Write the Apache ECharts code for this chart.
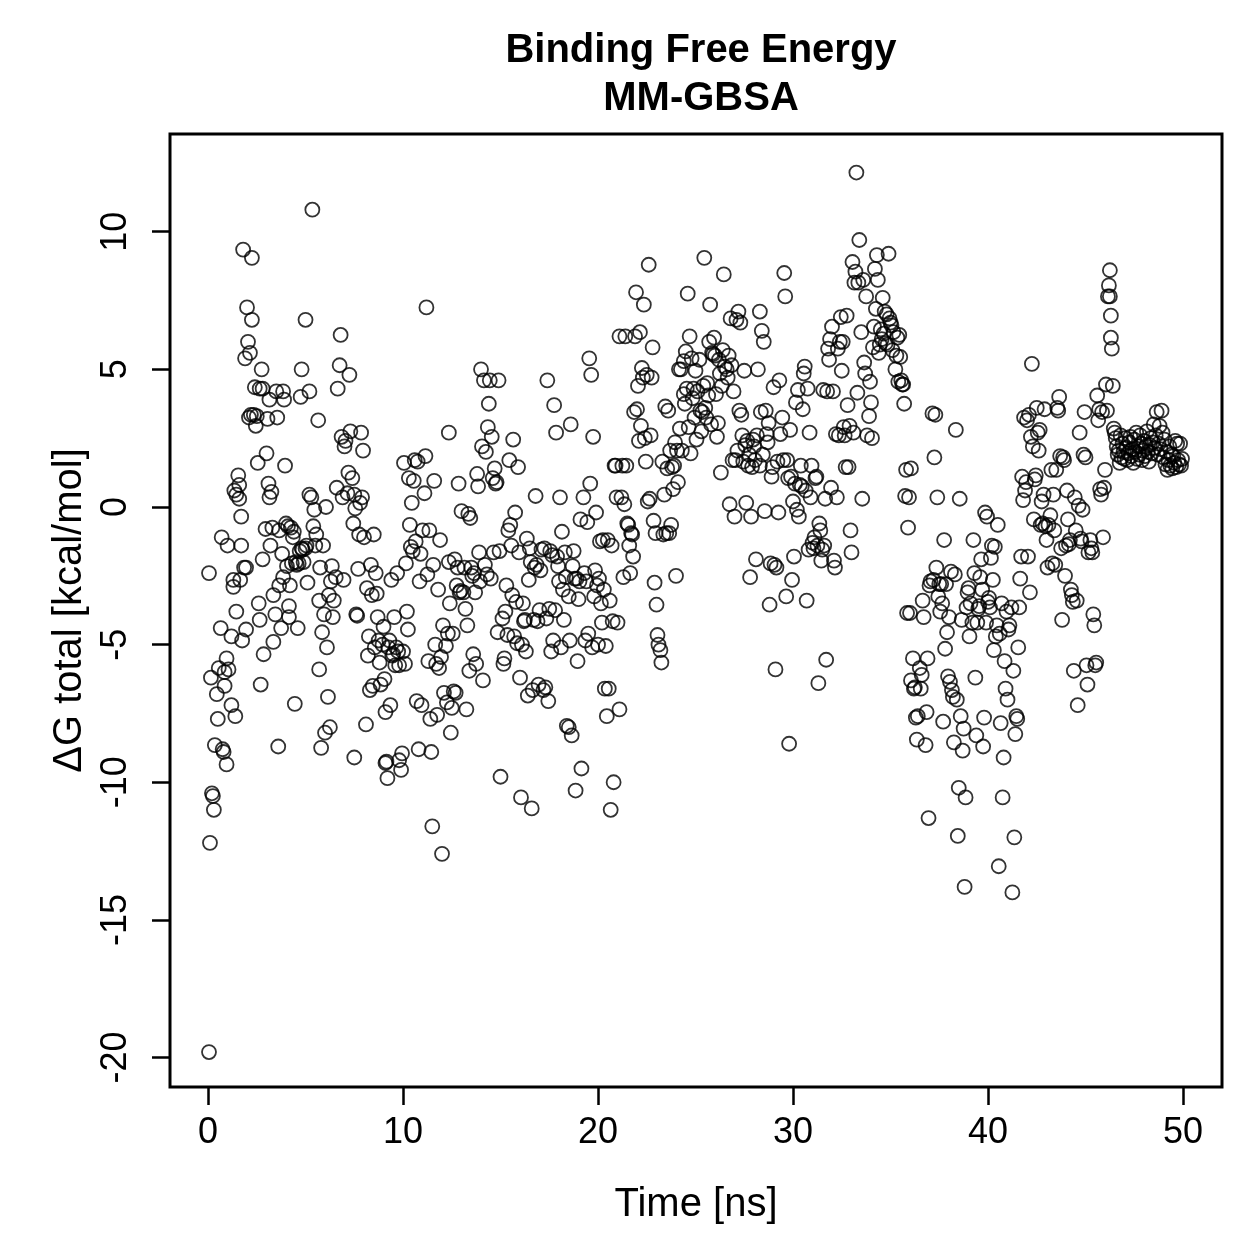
<!DOCTYPE html>
<html>
<head>
<meta charset="utf-8">
<script src="https://cdn.jsdelivr.net/npm/echarts@6/dist/echarts.min.js"></script>
<style>
  html, body { margin: 0; padding: 0; background: #fff; }
  #chart { width: 1259px; height: 1259px; }
</style>
</head>
<body>
<div id="chart"></div>
<script>
// [time (ns), dG total (kcal/mol)], one block per 10 ns
const pts0to10 = [[0.05,-19.8],[0.05,-2.4],[0.1,-12.2],[0.15,-6.2],[0.2,-10.4],[0.25,-10.5],[0.3,-11.0],[0.35,-8.65],[0.45,-6.8],[0.5,-7.7],[0.55,-5.85],[0.65,-4.4],[0.7,-1.1],[0.75,-8.8],[0.8,-8.9],[0.85,-6.0],[0.85,-6.5],[0.95,-9.35],[0.95,-5.5],[1.0,-1.4],[1.05,-5.9],[1.2,-7.2],[1.2,-4.7],[1.3,-2.65],[1.3,-2.9],[1.35,0.6],[1.4,-7.6],[1.45,-3.8],[1.45,0.45],[1.55,1.15],[1.6,0.3],[1.6,0.8],[1.65,-2.65],[1.7,-1.4],[1.7,-0.35],[1.75,-4.85],[1.8,9.35],[1.85,-2.2],[1.9,5.4],[1.95,-4.45],[1.95,-2.2],[2.0,7.25],[2.05,6.0],[2.1,3.25],[2.15,5.6],[2.2,3.35],[2.25,9.05],[2.25,6.8],[2.35,3.35],[2.4,4.35],[2.45,2.95],[2.5,3.3],[2.55,1.6],[2.6,-3.5],[2.65,4.3],[2.65,-4.1],[2.7,-6.45],[2.75,5.0],[2.8,-1.9],[2.8,4.3],[2.85,-5.35],[2.95,-0.8],[3.0,1.95],[3.05,3.2],[3.1,0.85],[3.15,0.35],[3.15,3.9],[3.2,-1.4],[3.25,0.55],[3.3,-0.75],[3.35,-3.2],[3.35,-4.9],[3.45,-3.9],[3.5,4.2],[3.55,3.25],[3.6,-8.7],[3.65,-2.85],[3.65,-0.85],[3.75,-4.4],[3.8,-1.7],[3.85,-2.55],[3.85,4.2],[3.9,3.9],[3.95,1.5],[4.0,-0.6],[4.05,-2.15],[4.1,-0.7],[4.15,-4.0],[4.15,-3.6],[4.2,-2.85],[4.25,-0.75],[4.3,-2.05],[4.35,-1.1],[4.4,-0.9],[4.45,-7.15],[4.5,-2.0],[4.55,-2.1],[4.6,-4.4],[4.65,-2.05],[4.7,-1.6],[4.75,4.0],[4.8,5.0],[4.8,-1.5],[4.85,-1.55],[4.9,-2.0],[5.0,6.8],[5.0,-1.5],[5.05,-1.4],[5.1,-2.75],[5.2,0.45],[5.2,4.2],[5.3,0.35],[5.35,10.8],[5.4,-0.7],[5.45,-0.1],[5.5,-1.4],[5.55,-1.0],[5.65,3.15],[5.7,-3.4],[5.7,-5.9],[5.75,-2.2],[5.8,-8.75],[5.85,-4.55],[5.9,-1.4],[5.95,-3.9],[6.0,-8.2],[6.05,0.0],[6.1,-5.1],[6.15,-6.9],[6.2,-3.2],[6.25,-8.0],[6.3,-2.7],[6.35,-2.15],[6.4,-4.0],[6.45,-3.4],[6.55,-2.55],[6.6,0.7],[6.65,4.3],[6.75,5.15],[6.8,6.25],[6.85,2.55],[6.9,0.35],[6.95,-2.65],[7.0,2.2],[7.05,2.4],[7.15,0.5],[7.2,1.25],[7.25,4.8],[7.3,2.75],[7.4,1.05],[7.45,-0.6],[7.5,0.45],[7.5,-9.1],[7.55,-0.05],[7.6,-3.9],[7.65,-3.95],[7.7,-2.25],[7.75,-1.0],[7.8,0.15],[7.85,2.7],[7.9,0.35],[7.95,2.05],[8.0,-1.1],[8.1,-7.9],[8.15,-2.95],[8.2,-5.4],[8.25,-4.7],[8.3,-6.65],[8.35,-2.1],[8.4,-3.2],[8.45,-6.5],[8.5,-1.0],[8.55,-5.1],[8.6,-2.4],[8.65,-3.15],[8.7,-4.0],[8.75,-4.85],[8.8,-5.65],[8.85,-6.45],[8.95,-5.0],[9.0,-4.35],[9.05,-6.25],[9.1,-7.45],[9.1,-9.3],[9.15,-9.25],[9.2,-9.85],[9.25,-5.1],[9.3,-4.85],[9.35,-7.2],[9.4,-2.65],[9.45,-5.4],[9.5,-5.35],[9.55,-4.0],[9.6,-5.75],[9.65,-5.1],[9.7,-2.4],[9.75,-5.25],[9.8,-5.75],[9.8,-9.2],[9.9,-9.55],[9.95,-8.95]];

const pts10to20 = [[10.0,-5.25],[10.05,1.6],[10.1,-5.7],[10.15,-2.05],[10.2,-3.8],[10.25,-4.45],[10.3,1.05],[10.35,-0.65],[10.4,-1.45],[10.45,0.15],[10.5,-1.6],[10.55,0.95],[10.6,1.7],[10.65,-1.25],[10.7,-7.05],[10.75,1.65],[10.8,-8.8],[10.85,-2.7],[10.9,-1.7],[10.95,-7.2],[11.0,-0.85],[11.1,0.5],[11.15,1.85],[11.2,7.25],[11.25,-2.45],[11.3,-5.6],[11.35,-0.85],[11.4,-7.7],[11.45,-8.9],[11.5,-11.6],[11.55,-2.1],[11.6,0.95],[11.65,-5.0],[11.7,-5.7],[11.75,-7.55],[11.8,-3.0],[11.85,-5.85],[11.9,-1.2],[11.95,-5.45],[12.0,-12.6],[12.05,-4.3],[12.1,-6.75],[12.2,-5.05],[12.25,-7.1],[12.3,-4.6],[12.35,-2.0],[12.35,2.7],[12.4,-3.5],[12.45,-8.2],[12.5,-7.3],[12.55,-4.6],[12.6,-6.7],[12.65,-1.9],[12.7,-6.75],[12.75,-2.85],[12.8,-2.2],[12.85,0.85],[12.9,-3.1],[12.95,-3.05],[13.0,-0.15],[13.1,-3.1],[13.15,-2.2],[13.2,-3.7],[13.25,-7.35],[13.3,-4.3],[13.35,-0.25],[13.4,-5.95],[13.45,-0.4],[13.5,-2.2],[13.55,-2.5],[13.6,-5.35],[13.65,-2.4],[13.7,-3.1],[13.75,-5.7],[13.8,1.2],[13.85,0.75],[13.9,-1.65],[13.95,-2.7],[14.0,5.0],[14.05,2.2],[14.1,-6.3],[14.15,4.6],[14.2,-2.1],[14.25,2.0],[14.3,-2.45],[14.35,2.9],[14.4,3.75],[14.45,4.6],[14.5,-2.6],[14.55,2.55],[14.6,1.05],[14.65,-1.65],[14.7,1.4],[14.75,0.85],[14.8,0.9],[14.85,-4.55],[14.9,4.6],[14.95,-1.6],[15.0,-9.8],[15.1,-4.05],[15.15,-5.7],[15.2,-5.5],[15.25,-3.8],[15.3,-2.85],[15.35,-4.65],[15.4,-0.85],[15.45,1.7],[15.5,-0.65],[15.55,-1.4],[15.6,-3.2],[15.65,2.45],[15.7,-4.7],[15.75,-0.2],[15.8,-3.45],[15.85,-4.95],[15.9,1.45],[15.95,-1.65],[16.0,-6.2],[16.05,-10.55],[16.1,-5.0],[16.15,-3.5],[16.2,-4.15],[16.25,-4.1],[16.3,-5.25],[16.35,-1.15],[16.4,-6.85],[16.45,-2.65],[16.5,-1.5],[16.55,-2.0],[16.6,-10.95],[16.65,-6.65],[16.7,-4.1],[16.75,-2.2],[16.8,0.4],[16.85,-2.1],[16.9,-4.15],[16.95,-6.45],[17.0,-3.75],[17.05,-2.3],[17.1,-1.55],[17.2,-6.65],[17.25,-1.5],[17.3,-6.55],[17.35,-4.05],[17.4,4.6],[17.45,-7.05],[17.5,-3.7],[17.55,-1.6],[17.6,-5.25],[17.65,-1.75],[17.7,-4.85],[17.75,3.7],[17.8,-3.75],[17.85,2.7],[17.9,-1.8],[17.95,-2.15],[18.0,-2.7],[18.05,0.35],[18.1,-5.1],[18.15,-0.9],[18.2,-3.0],[18.25,-4.1],[18.3,-1.65],[18.35,-2.55],[18.4,-7.95],[18.5,-8.0],[18.5,-3.25],[18.55,-4.85],[18.6,3.0],[18.65,-8.3],[18.7,-2.15],[18.75,-1.6],[18.8,-2.6],[18.85,-10.3],[18.9,-2.6],[18.95,-5.6],[19.0,-3.35],[19.05,-2.7],[19.1,-0.45],[19.15,-9.5],[19.25,0.35],[19.3,-2.4],[19.35,-4.85],[19.4,-2.7],[19.45,-0.55],[19.5,-4.6],[19.55,5.4],[19.6,0.85],[19.65,4.8],[19.7,-5.1],[19.75,2.55],[19.8,-3.25],[19.85,-2.3],[19.9,-0.2],[19.95,-2.85]];

const pts20to30 = [[20.0,-5.0],[20.05,-2.6],[20.1,-1.25],[20.15,-3.5],[20.2,-4.2],[20.25,-1.2],[20.3,-3.0],[20.35,-6.6],[20.4,-5.05],[20.45,-7.6],[20.5,-1.2],[20.55,-6.6],[20.6,-3.4],[20.65,-11.0],[20.7,-1.4],[20.75,-4.15],[20.8,-10.0],[20.85,1.5],[20.9,1.5],[20.95,0.35],[21.0,-4.2],[21.1,6.2],[21.1,-7.35],[21.2,0.35],[21.25,1.5],[21.3,-2.55],[21.35,0.1],[21.4,6.2],[21.45,1.5],[21.5,-0.6],[21.55,-0.65],[21.6,-1.4],[21.65,-2.4],[21.7,-0.95],[21.75,-1.0],[21.8,-1.8],[21.85,3.45],[21.9,6.2],[21.95,7.8],[22.0,3.55],[22.05,4.4],[22.1,2.4],[22.15,6.35],[22.2,2.95],[22.25,5.05],[22.3,4.7],[22.35,7.35],[22.4,2.5],[22.45,1.65],[22.5,4.8],[22.55,0.2],[22.6,8.8],[22.65,0.3],[22.7,2.6],[22.75,4.7],[22.8,5.8],[22.85,-0.5],[22.9,-2.75],[22.95,-0.95],[23.0,-3.55],[23.05,-4.65],[23.1,-5.0],[23.2,-5.2],[23.25,-5.65],[23.3,1.65],[23.35,-1.0],[23.4,0.45],[23.45,3.65],[23.5,-0.95],[23.55,1.4],[23.6,3.5],[23.65,-0.95],[23.7,2.05],[23.75,-0.65],[23.8,1.45],[23.85,0.65],[23.9,1.5],[23.95,2.35],[24.0,-2.5],[24.05,2.05],[24.1,0.9],[24.15,5.0],[24.2,2.85],[24.25,5.0],[24.3,2.05],[24.4,4.1],[24.4,5.3],[24.45,3.75],[24.5,5.65],[24.55,4.3],[24.6,7.75],[24.65,2.9],[24.7,6.2],[24.75,1.95],[24.8,5.4],[24.85,3.95],[24.9,4.3],[24.95,3.25],[25.0,4.95],[25.05,2.45],[25.1,4.2],[25.2,5.35],[25.25,3.5],[25.3,2.75],[25.35,3.45],[25.4,4.4],[25.45,9.05],[25.5,3.6],[25.55,3.25],[25.6,4.5],[25.65,4.05],[25.7,6.0],[25.75,7.35],[25.8,3.0],[25.85,5.6],[25.9,5.55],[25.95,6.15],[26.0,5.5],[26.05,4.1],[26.1,2.55],[26.15,3.05],[26.2,5.35],[26.25,4.85],[26.3,1.25],[26.35,4.4],[26.4,5.7],[26.45,8.45],[26.5,5.1],[26.6,5.0],[26.65,4.7],[26.7,5.5],[26.75,0.1],[26.8,6.85],[26.85,5.15],[26.9,1.7],[26.95,4.2],[27.0,-0.35],[27.05,1.7],[27.1,6.8],[27.15,2.05],[27.2,7.1],[27.25,3.5],[27.3,6.7],[27.35,3.35],[27.4,2.6],[27.45,1.65],[27.5,4.95],[27.55,2.25],[27.6,0.15],[27.65,2.4],[27.7,1.5],[27.75,1.9],[27.8,-2.55],[27.85,-0.35],[27.9,1.45],[27.95,2.45],[28.0,2.2],[28.05,1.7],[28.1,-1.9],[28.15,2.6],[28.2,5.0],[28.3,1.5],[28.3,7.1],[28.35,3.45],[28.4,6.4],[28.45,1.9],[28.5,6.0],[28.55,-0.15],[28.6,3.5],[28.65,2.65],[28.7,2.35],[28.75,3.05],[28.8,-3.55],[28.85,-2.05],[28.9,1.1],[28.95,1.45],[29.0,4.35],[29.05,-2.1],[29.1,-5.9],[29.15,-2.2],[29.2,1.65],[29.25,-0.2],[29.3,4.6],[29.35,2.65],[29.45,3.25],[29.5,1.7],[29.55,8.5],[29.6,7.65],[29.65,-3.25],[29.7,1.7],[29.75,1.05],[29.8,-8.6],[29.85,2.8],[29.9,1.1],[29.95,-2.65]];

const pts30to40 = [[30.0,0.2],[30.05,-1.8],[30.1,0.85],[30.15,3.8],[30.2,-0.1],[30.25,4.25],[30.3,-0.35],[30.35,0.8],[30.4,1.5],[30.45,0.75],[30.5,3.55],[30.55,4.85],[30.6,5.1],[30.65,0.6],[30.7,-3.4],[30.75,4.3],[30.8,-1.55],[30.85,2.7],[30.9,0.35],[30.95,1.5],[31.0,-1.3],[31.05,-1.5],[31.1,-1.1],[31.15,1.05],[31.2,1.1],[31.25,-1.4],[31.3,-6.4],[31.35,-0.6],[31.4,-0.85],[31.45,-1.95],[31.5,-1.55],[31.55,4.25],[31.6,-1.4],[31.65,0.3],[31.7,-5.55],[31.75,4.2],[31.8,5.75],[31.85,5.35],[31.9,6.1],[31.95,0.7],[32.0,6.55],[32.05,4.2],[32.1,-1.95],[32.15,-2.2],[32.2,2.65],[32.25,0.35],[32.3,5.75],[32.35,2.6],[32.4,6.0],[32.45,6.9],[32.5,4.95],[32.55,6.0],[32.6,2.9],[32.65,2.6],[32.7,1.45],[32.75,6.95],[32.8,3.7],[32.85,1.45],[32.9,2.95],[32.95,-0.85],[33.0,-1.65],[33.05,8.9],[33.1,2.7],[33.15,8.15],[33.2,8.55],[33.25,12.15],[33.3,4.15],[33.35,8.15],[33.4,9.7],[33.5,6.35],[33.55,0.3],[33.6,8.25],[33.65,5.25],[33.7,4.85],[33.75,7.65],[33.8,2.6],[33.9,3.3],[33.95,4.55],[34.0,3.8],[34.05,2.5],[34.1,5.8],[34.15,6.55],[34.2,8.65],[34.25,7.2],[34.3,9.15],[34.35,8.25],[34.4,5.6],[34.45,5.9],[34.5,6.45],[34.55,6.1],[34.6,7.6],[34.65,6.3],[34.7,7.1],[34.75,5.95],[34.8,7.0],[34.85,5.9],[34.9,9.2],[34.95,6.85],[35.0,6.7],[35.05,6.6],[35.1,5.7],[35.15,6.35],[35.25,5.0],[35.3,5.5],[35.35,6.15],[35.4,4.55],[35.45,6.25],[35.5,5.45],[35.55,4.6],[35.6,4.45],[35.65,4.45],[35.7,3.75],[35.75,0.4],[35.8,1.35],[35.85,-3.85],[35.9,-0.75],[35.95,0.35],[36.0,-3.85],[36.05,1.4],[36.05,-6.3],[36.15,-5.5],[36.2,-6.6],[36.25,-6.55],[36.3,-7.65],[36.35,-8.45],[36.4,-7.6],[36.5,-5.85],[36.55,-6.6],[36.6,-6.1],[36.65,-3.4],[36.7,-4.0],[36.8,-8.65],[36.85,-7.45],[36.9,-5.5],[36.95,-11.3],[37.0,-2.85],[37.05,-2.7],[37.15,3.4],[37.2,-2.65],[37.25,1.8],[37.3,3.35],[37.35,-2.2],[37.4,0.35],[37.45,-3.25],[37.5,-2.8],[37.55,-3.8],[37.6,-2.8],[37.65,-3.5],[37.7,-7.8],[37.75,-1.2],[37.8,-5.15],[37.85,-2.8],[37.9,-4.55],[37.95,-6.15],[38.0,-4.0],[38.05,-6.35],[38.1,-2.35],[38.15,-6.65],[38.2,-6.9],[38.25,-8.55],[38.3,-2.45],[38.35,2.8],[38.4,-7.0],[38.45,-11.95],[38.5,-10.2],[38.55,0.3],[38.6,-7.6],[38.65,-4.1],[38.7,-8.85],[38.75,-8.05],[38.8,-13.8],[38.85,-10.55],[38.9,-3.65],[38.95,-3.1],[39.0,-2.95],[39.05,-4.7],[39.1,-3.5],[39.2,-4.2],[39.25,-1.2],[39.3,-2.4],[39.35,-6.2],[39.4,-8.3],[39.45,-4.2],[39.5,-3.7],[39.55,-3.6],[39.6,-2.55],[39.65,-1.9],[39.7,-3.0],[39.75,-8.7],[39.8,-7.65],[39.85,-0.2],[39.9,-4.2],[39.95,-0.35]];

const pts40to50 = [[40.0,-3.45],[40.05,-3.3],[40.1,-3.65],[40.15,-1.85],[40.2,-1.4],[40.25,-2.65],[40.3,-5.2],[40.35,-1.45],[40.4,-4.7],[40.45,-4.3],[40.5,-0.65],[40.55,-13.05],[40.6,-4.6],[40.65,-7.85],[40.7,-3.5],[40.75,-10.55],[40.8,-9.1],[40.85,-5.6],[40.9,-6.6],[40.95,-3.8],[41.0,-7.0],[41.05,-4.45],[41.1,-4.3],[41.2,-3.65],[41.25,-14.0],[41.3,-5.95],[41.35,-12.0],[41.4,-8.25],[41.45,-7.6],[41.5,-7.7],[41.55,-5.1],[41.6,-3.65],[41.65,-2.6],[41.7,-1.8],[41.75,1.1],[41.8,0.25],[41.85,3.25],[41.9,0.6],[41.95,0.9],[42.0,3.15],[42.05,-1.8],[42.1,3.35],[42.15,-3.1],[42.2,2.55],[42.25,5.2],[42.3,2.2],[42.35,-0.45],[42.4,1.0],[42.45,1.15],[42.5,3.6],[42.55,2.7],[42.6,2.05],[42.65,2.8],[42.7,-0.65],[42.75,0.2],[42.8,-0.6],[42.85,0.45],[42.9,3.55],[42.95,-0.7],[43.0,-1.2],[43.05,-2.2],[43.1,-0.65],[43.2,-0.3],[43.25,1.35],[43.3,-2.05],[43.35,0.45],[43.4,-0.85],[43.45,-2.1],[43.5,1.35],[43.55,3.6],[43.6,3.5],[43.65,4.0],[43.7,1.85],[43.75,-1.5],[43.8,-4.1],[43.85,1.8],[43.9,1.7],[43.95,-2.5],[44.0,-1.4],[44.05,0.6],[44.1,-0.45],[44.15,-1.35],[44.2,-1.2],[44.25,-3.0],[44.3,-3.2],[44.35,-3.45],[44.4,-5.95],[44.45,0.35],[44.5,-0.85],[44.55,-3.4],[44.6,-7.2],[44.65,0.05],[44.7,2.7],[44.75,-1.15],[44.8,-1.25],[44.85,-0.1],[44.9,1.9],[44.95,3.45],[45.0,1.8],[45.05,-5.75],[45.1,-6.45],[45.15,-1.65],[45.25,-1.2],[45.3,-1.5],[45.35,-1.65],[45.4,-3.9],[45.45,-4.3],[45.5,-5.75],[45.55,-5.65],[45.6,4.05],[45.65,3.15],[45.7,3.55],[45.75,0.65],[45.8,0.45],[45.85,3.45],[45.9,-1.1],[45.95,0.7],[46.0,1.35],[46.05,4.45],[46.1,3.5],[46.15,7.65],[46.2,8.05],[46.25,8.6],[46.25,7.65],[46.3,6.95],[46.3,6.15],[46.35,5.75],[46.4,4.4],[46.45,2.85],[46.5,2.7],[46.55,2.5],[46.6,2.2],[46.65,1.9],[46.7,2.05],[46.75,1.6],[46.8,2.6],[46.85,1.8],[46.9,2.3],[46.95,2.0],[47.0,1.75],[47.05,2.5],[47.1,2.15],[47.15,1.7],[47.2,1.95],[47.25,2.35],[47.3,2.55],[47.35,1.85],[47.4,2.1],[47.45,1.6],[47.5,2.45],[47.55,2.0],[47.6,2.7],[47.65,1.75],[47.7,2.2],[47.75,1.9],[47.8,2.6],[47.85,2.3],[47.9,1.7],[47.95,2.05],[48.0,2.4],[48.05,1.85],[48.1,2.2],[48.15,2.75],[48.2,2.0],[48.25,1.65],[48.3,2.25],[48.35,2.5],[48.4,1.95],[48.45,2.35],[48.5,3.0],[48.55,2.15],[48.6,2.6],[48.65,3.45],[48.7,1.9],[48.75,2.3],[48.8,2.95],[48.85,2.1],[48.9,3.5],[48.95,2.7],[49.0,1.8],[49.05,2.45],[49.1,1.55],[49.15,2.0],[49.2,1.35],[49.25,1.7],[49.3,2.2],[49.35,1.5],[49.4,1.9],[49.45,1.4],[49.5,1.85],[49.55,1.6],[49.6,2.4],[49.65,1.45],[49.7,2.3],[49.75,1.7],[49.8,1.55],[49.85,2.3],[49.9,1.5],[49.95,1.75]];

const xTicks = [0, 10, 20, 30, 40, 50];
const yTicks = [-20, -15, -10, -5, 0, 5, 10];

const font = "'Liberation Sans', Arial, Helvetica, sans-serif";
const allPts = pts0to10.concat(pts10to20, pts20to30, pts30to40, pts40to50);

const chart = echarts.init(document.getElementById('chart'));
chart.setOption({
  animation: false,
  backgroundColor: '#fff',
  textStyle: { fontFamily: font, color: '#000' },
  title: {
    text: 'Binding Free Energy\nMM-GBSA',
    left: 696,
    top: 22,
    textAlign: 'center',
    textStyle: { fontFamily: font, fontSize: 40, fontWeight: 'bold', lineHeight: 48, color: '#000' }
  },
  grid: {
    left: 170, right: 37, top: 134, bottom: 172,
    show: true, borderColor: '#000', borderWidth: 3, backgroundColor: 'transparent'
  },
  xAxis: {
    type: 'value',
    min: -1.95, max: 52,
    name: 'Time [ns]',
    nameLocation: 'middle',
    nameGap: 98,
    nameTextStyle: { fontFamily: font, fontSize: 40, color: '#000' },
    axisLine: { show: false, onZero: false },
    axisTick: { show: true, inside: false, length: 18, customValues: xTicks, lineStyle: { color: '#000', width: 2.5 } },
    axisLabel: { customValues: xTicks, margin: 28, fontFamily: font, fontSize: 36, color: '#000' },
    splitLine: { show: false }
  },
  yAxis: {
    type: 'value',
    min: -21.07, max: 13.55,
    name: 'ΔG total [kcal/mol]',
    nameLocation: 'middle',
    nameGap: 60,
    nameTextStyle: { fontFamily: font, fontSize: 40, color: '#000' },
    axisLine: { show: false, onZero: false },
    axisTick: { show: true, inside: false, length: 18, customValues: yTicks, lineStyle: { color: '#000', width: 2.5 } },
    axisLabel: { customValues: yTicks, rotate: 90, margin: 36, fontFamily: font, fontSize: 36, color: '#000' },
    splitLine: { show: false }
  },
  series: [{
    type: 'scatter',
    data: allPts,
    symbol: 'circle',
    symbolSize: 14,
    itemStyle: { color: 'rgba(0,0,0,0)', borderColor: '#000', borderWidth: 1.8 },
    emphasis: { disabled: true }
  }]
});
</script>
</body>
</html>
